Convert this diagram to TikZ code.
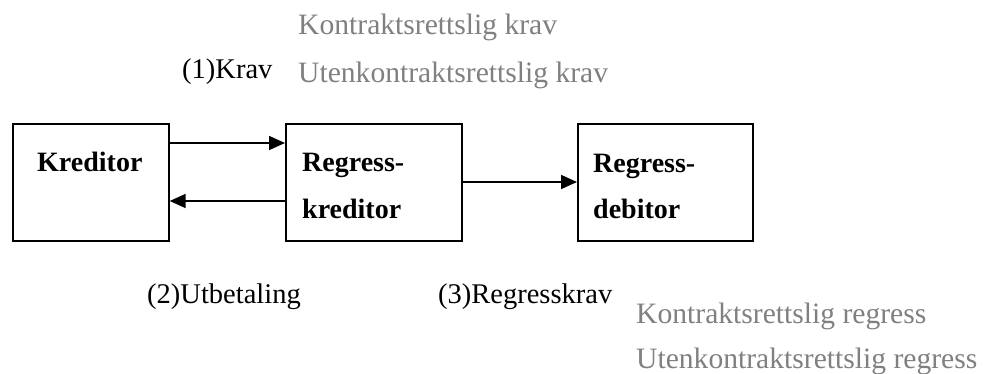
\documentclass[tikz,border=0pt]{standalone}
\usepackage{fontspec}
\setmainfont{Liberation Serif}
\usetikzlibrary{arrows.meta}
\definecolor{notegray}{HTML}{808080}
\tikzset{
  party/.style={draw, line width=1.7pt, inner sep=0pt, anchor=north west, minimum height=117pt},
  partytext/.style={font=\fontsize{28}{34}\selectfont\bfseries, anchor=base west, inner sep=0pt},
  flowtext/.style={font=\fontsize{28.5}{34}\selectfont, anchor=base west, inner sep=0pt},
  notetext/.style={font=\fontsize{29.6}{36}\selectfont, text=notegray, anchor=base west, inner sep=0pt},
  flow/.style={draw, line width=1.7pt, -{Triangle[length=16pt,width=14pt]}}
}
\begin{document}
\begin{tikzpicture}[x=1pt, y=-1pt]
  \useasboundingbox (0,0) rectangle (983,373);

  % the three parties
  \node[party, minimum width=156pt] (kred) at (12,123) {};
  \node[party, minimum width=176pt] (rk)   at (285,123) {};
  \node[party, minimum width=175pt] (rd)   at (577,123) {};

  \node[partytext] (kredA) at (37,171)  {Kreditor};
  \node[partytext] (rkA)   at (302,171) {Regress-};
  \node[partytext] (rkB)   at (302,218) {kreditor};
  \node[partytext] (rdA)   at (593,172) {Regress-};
  \node[partytext] (rdB)   at (593,218) {debitor};

  % flows between the parties
  \draw[flow] ([yshift=-20pt]kred.north east) -- ([yshift=-20pt]rk.north west);
  \draw[flow] ([yshift=-78pt]rk.north west) -- ([yshift=-78pt]kred.north east);
  \draw[flow] ([yshift=-59pt]rk.north east) -- ([yshift=-59pt]rd.north west);

  % flow labels
  \node[flowtext] (krav)  at (182,78)  {(1)Krav};
  \node[flowtext] (utbet) at (147,303) {(2)Utbetaling};
  \node[flowtext] (regk)  at (438,303) {(3)Regresskrav};

  % legal bases
  \node[notetext] (kk) at (298,34)  {Kontraktsrettslig krav};
  \node[notetext] (uk) at (298,82)  {Utenkontraktsrettslig krav};
  \node[notetext] (kr) at (636,323) {Kontraktsrettslig regress};
  \node[notetext] (ur) at (636,368) {Utenkontraktsrettslig regress};
\end{tikzpicture}
\end{document}
